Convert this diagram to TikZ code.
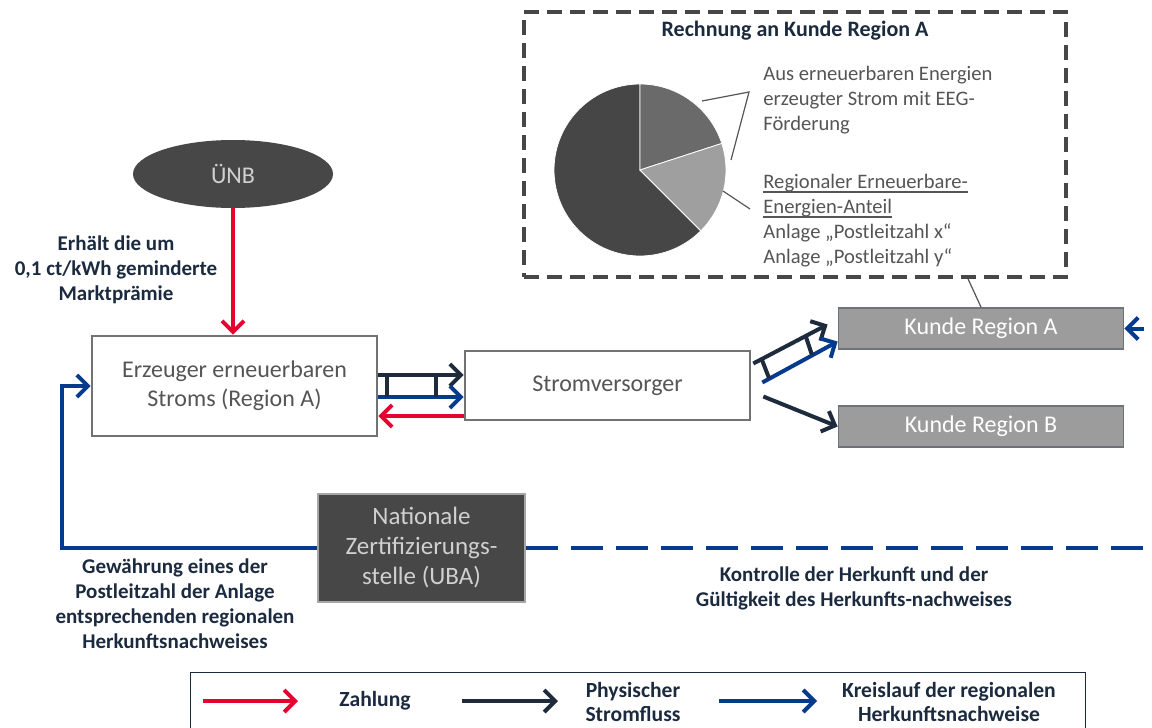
\documentclass[tikz,border=0pt]{standalone}
\usepackage{fontspec}
\setmainfont{Carlito}
\usetikzlibrary{shapes.geometric,arrows.meta,positioning,calc}

\definecolor{payred}{HTML}{E3052E}
\definecolor{flowdark}{HTML}{1E2B3C}
\definecolor{hknblue}{HTML}{063A8C}
\definecolor{boxedge}{HTML}{727272}
\definecolor{txtgray}{HTML}{555555}
\definecolor{darkfill}{HTML}{474747}
\definecolor{darktxt}{HTML}{D0D0D0}
\definecolor{kundefill}{HTML}{9C9C9C}
\definecolor{kundeedge}{HTML}{6C737A}
\definecolor{lblnavy}{HTML}{1B2A3E}
\definecolor{piedark}{HTML}{464646}
\definecolor{piemid}{HTML}{6A6A6A}
\definecolor{pielight}{HTML}{9F9F9F}

% Unterstreichung knapp unter der Grundlinie
\newcommand{\unterstr}[1]{\setbox0\hbox{#1}\rlap{\vrule height -1.3pt depth 1.9pt width \wd0}\box0}

\begin{document}
\begin{tikzpicture}[x=0.5pt,y=-0.5pt,
    box/.style={draw=boxedge,line width=1.3pt,fill=white,text=txtgray,align=center,
                font=\fontsize{12}{14.5}\selectfont},
    darkbox/.style={draw=gray!70,line width=0.9pt,fill=darkfill,text=darktxt,align=center,
                font=\fontsize{12.5}{15}\selectfont},
    kunde/.style={draw=kundeedge,line width=0.9pt,fill=kundefill,text=white,
                minimum width=142.5pt,minimum height=20.5pt,font=\fontsize{12}{14}\selectfont},
    lbl/.style={text=lblnavy,align=center,font=\bfseries\fontsize{10.5}{12.5}\selectfont},
    legtxt/.style={text=lblnavy,align=center,font=\bfseries\fontsize{10.8}{12.3}\selectfont},
    pietxt/.style={text=txtgray,align=left,inner sep=0pt,anchor=north west,
                font=\fontsize{10.3}{12.5}\selectfont},
    rechbox/.style={draw=darkfill,line width=1.8pt,dash pattern=on 7.5pt off 4pt},
    tip/.style={-{Straight Barb[length=5.5pt,width=11pt]}},
    pay/.style={tip,payred,line width=2pt},
    flow/.style={tip,flowdark,line width=2pt},
    hkn/.style={tip,hknblue,line width=2pt},
    rung/.style={flowdark,line width=2pt},
    leader/.style={draw=txtgray,line width=0.6pt},
  ]
  \useasboundingbox (0,0) rectangle (1152,728);
  \clip (0,0) rectangle (1152,728);

  % Akteure
  \node[ellipse,fill=darkfill,text=darktxt,minimum width=100pt,minimum height=34pt,
        font=\fontsize{12}{14}\selectfont] (unb) at (233,174) {ÜNB};
  \node[box,minimum width=142.5pt,minimum height=50pt] (erz) at (234.5,386)
    {Erzeuger erneuerbaren\\Stroms (Region A)};
  \node[box,minimum width=142.5pt,minimum height=34.5pt] (sv) at (607.5,385.5) {Stromversorger};
  \node[kunde] (ka) at (981,328.5) {Kunde Region A};
  \node[kunde] (kb) at (981,426.5) {Kunde Region B};
  \node[darkbox,minimum width=103.5pt,minimum height=54pt] (uba) at (421.5,548)
    {Nationale\\Zertifizierungs-\\stelle (UBA)};

  % Zahlung ÜNB -> Erzeuger
  \draw[pay] (unb.south) -- (unb.south |- erz.north);
  \node[lbl] (praemie) at (116,270) {Erhält die um\\0,1 ct/kWh geminderte\\Marktprämie};

  % Erzeuger <-> Stromversorger
  \draw[flow] (erz.east |- 0,375) -- (sv.west |- 0,375);
  \draw[hkn] (erz.east |- 0,397) -- (sv.west |- 0,397);
  \draw[pay] (sv.west |- 0,416) -- (erz.east |- 0,416);
  \draw[rung] (387,375) -- (387,397);
  \draw[rung] (436,375) -- (436,397);

  % Stromversorger -> Kunden
  \coordinate (sa1) at ($(sv.east)+(2,-22)$);
  \coordinate (sa2) at ($(ka.west)+(-10,-4)$);
  \coordinate (sb1) at ($(sv.east)+(11,-3)$);
  \coordinate (sb2) at ($(ka.west)+(0,13)$);
  \draw[flow] (sa1) -- (sa2);
  \draw[hkn] (sb1) -- (sb2);
  \draw[rung] (762,360) -- (769,378);
  \draw[rung] (806,337) -- (812,355);
  \draw[flow] ($(sv.east)+(12,11)$) -- (kb.west);

  % Kreislauf der Herkunftsnachweise
  \draw[hkn] (uba.west) -- (62,548) |- (erz.west);
  \draw[hkn,dash pattern=on 16pt off 6.5pt] (uba.east) -- (1175,548) |- (ka.east);
  \node[lbl] (gewaehr) at (175,604)
    {Gewährung eines der\\Postleitzahl der Anlage\\entsprechenden regionalen\\Herkunftsnachweises};
  \node[lbl] (kontr) at (854,588) {Kontrolle der Herkunft und der\\Gültigkeit des Herkunfts-nachweises};

  % Rechnung
  \node[rechbox,minimum width=271pt,minimum height=132.5pt] (rech) at (795,144.5) {};
  \node[text=lblnavy,font=\bfseries\fontsize{11}{13}\selectfont] (rtitle) at (795,31)
    {Rechnung an Kunde Region A};
  \begin{scope}[shift={(640,170)},yscale=-1]
    \filldraw[fill=piedark,draw=white,line width=0.4pt] (0,0) -- (90:86)
      arc[start angle=90,end angle=315,radius=86] -- cycle;
    \filldraw[fill=piemid,draw=white,line width=0.4pt] (0,0) -- (18:86)
      arc[start angle=18,end angle=90,radius=86] -- cycle;
    \filldraw[fill=pielight,draw=white,line width=0.4pt] (0,0) -- (-45:86)
      arc[start angle=-45,end angle=18,radius=86] -- cycle;
  \end{scope}
  \node[pietxt] (eegtxt) at (763,66)
    {Aus erneuerbaren Energien\\erzeugter Strom mit EEG-\\Förderung};
  \node[pietxt] (regtxt) at (763,174)
    {\unterstr{Regionaler Erneuerbare-}\\\unterstr{Energien-Anteil}\\Anlage „Postleitzahl x“\\Anlage „Postleitzahl y“};
  \coordinate (ld1) at (702,101);
  \coordinate (ld2) at (749,92);
  \coordinate (ld3) at (731,160);
  \coordinate (ld4) at (723,191);
  \coordinate (ld5) at (750,209);
  \draw[leader] (ld1) -- (ld2) -- (ld3);
  \draw[leader] (ld4) -- (ld5);
  \draw[leader] ($(rech.south)+(173,0)$) -- (ka.north);

  % Legende
  \node[draw=lblnavy,line width=0.7pt,minimum width=447.5pt,minimum height=40pt,
        anchor=north west] (leg) at (190,672) {};
  \draw[pay] (203,701) -- (298,701);
  \node[legtxt] (lzahl) at (375,701) {Zahlung};
  \draw[flow] (462,701) -- (558,701);
  \node[legtxt] (lphys) at (633,702) {Physischer\\Stromfluss};
  \draw[hkn] (719,701) -- (817,701);
  \node[legtxt] (lkreis) at (949,702) {Kreislauf der regionalen\\Herkunftsnachweise};
\end{tikzpicture}
\end{document}
